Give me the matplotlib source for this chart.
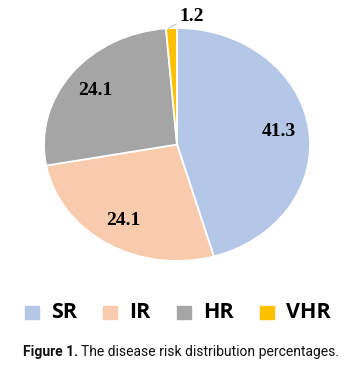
import numpy as np
import matplotlib.pyplot as plt
from matplotlib.patches import Rectangle

# data
groups = ["SR", "IR", "HR", "VHR"]
shares = [41.3, 24.1, 24.1, 1.2]
colours = ["#b4c7e7", "#f8cbad", "#a5a5a5", "#ffc000"]

fig = plt.figure(figsize=(3.54, 3.73), dpi=100)

# pie axes (stretched so the pie comes out slightly elliptical)
ax = fig.add_axes([44 / 354, 112 / 373, 266 / 354, 233 / 373])
wedges, _ = ax.pie(shares, colors=colours, startangle=90, counterclock=False,
                   wedgeprops=dict(edgecolor="white", linewidth=1.3))
ax.set_aspect("auto")
ax.set_xlim(-1, 1)
ax.set_ylim(-1, 1)

lab_font = dict(family="Liberation Serif", weight="bold", size=14, color="black")
for w, v in zip(wedges[:3], shares[:3]):
    mid = np.deg2rad((w.theta1 + w.theta2) / 2)
    ax.text(0.77 * np.cos(mid), 0.77 * np.sin(mid), f"{v:.1f}",
            ha="center", va="center", **lab_font)

# tiny slice gets a label outside with a short leader
w = wedges[3]
mid = np.deg2rad((w.theta1 + w.theta2) / 2)
ax.annotate(f"{shares[3]:.1f}", xy=(1.02 * np.cos(mid) - 0.02, 1.0),
            xytext=(0.02, 1.1), ha="left", va="center",
            arrowprops=dict(arrowstyle="-", color="#bfbfbf", lw=0.8,
                            shrinkA=1, shrinkB=0), **lab_font)

# legend row
leg_x = [25, 103, 177, 260]
for x, g, c in zip(leg_x, groups, colours):
    fig.patches.append(Rectangle((x / 354, (373 - 319) / 373), 14 / 354, 13 / 373,
                                 transform=fig.transFigure, color=c))
    fig.text((x + 26) / 354, (373 - 312) / 373, g, ha="left", va="center",
             family="Open Sans", weight="bold", size=15.5, color="black")

# caption
fig.text(23 / 354, (373 - 352) / 373, "Figure 1.", ha="left", va="center",
         family="Roboto", weight="bold", size=10, color="#111111")
fig.text(81 / 354, (373 - 352) / 373, "The disease risk distribution percentages.",
         ha="left", va="center", family="Roboto", size=10, color="#111111")

fig.savefig("out.png", dpi=100)
